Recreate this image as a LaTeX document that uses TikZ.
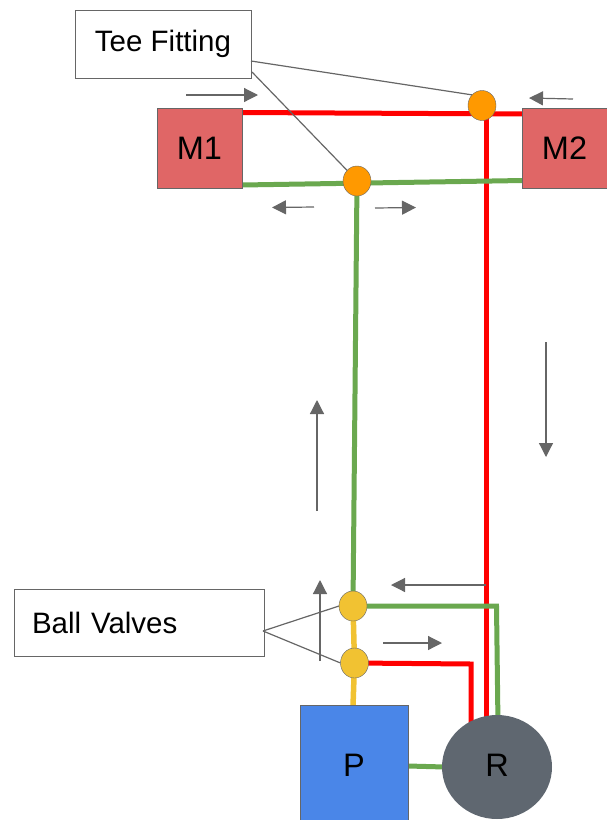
\documentclass[tikz,border=0pt]{standalone}
\usepackage{fontspec}
\setmainfont{Liberation Sans}
\usetikzlibrary{shapes.geometric, backgrounds, arrows.meta}
\definecolor{pipered}{HTML}{FF0000}
\definecolor{pipegreen}{HTML}{6AA84F}
\definecolor{pipeyellow}{HTML}{F1C232}
\definecolor{teeorange}{HTML}{FF9900}
\definecolor{motorred}{HTML}{E06666}
\definecolor{pumpblue}{HTML}{4A86E8}
\definecolor{tankgray}{HTML}{5F6770}
\definecolor{linegray}{HTML}{666666}
\tikzset{
    motor/.style={draw=linegray, fill=motorred, minimum width=85pt, minimum height=80pt, inner sep=0pt, outer sep=0pt, font=\fontsize{32.5}{33}\selectfont},
    label box/.style={draw=linegray, fill=white, line width=1pt, inner sep=0pt, outer sep=0pt, font=\fontsize{29.5}{31}\selectfont},
    joint/.style={draw=linegray, ellipse, minimum width=28pt, minimum height=30pt, inner sep=0pt, outer sep=0pt},
    pipe/.style={line width=5pt},
    leader/.style={draw=linegray, line width=1.2pt},
    flow/.style={draw=linegray, line width=1.2pt, -{Triangle[length=14pt, width=14pt]}},
}
\begin{document}
\begin{tikzpicture}[x=1pt, y=-1pt]
    \useasboundingbox (0,0) rectangle (606,820);

    \node[label box, minimum width=176pt, minimum height=68pt] (teebox) at (163,44) {Tee Fitting};
    \node[label box, minimum width=250pt, minimum height=67pt, text width=214pt, inner xsep=18pt, align=left] (valvebox) at (139,623) {Ball Valves};
    \node[motor] (m1) at (199.5,148) {M1};
    \node[motor] (m2) at (564.5,148) {M2};
    \node[joint, fill=teeorange] (teetop) at (482,105.5) {};
    \node[joint, fill=teeorange] (teelow) at (357,181) {};
    \node[joint, fill=pipeyellow] (valvetop) at (353,606) {};
    \node[joint, fill=pipeyellow] (valvelow) at (354.5,663) {};
    \node[draw=linegray, fill=pumpblue, minimum width=108pt, minimum height=115pt, inner sep=0pt, outer sep=0pt, text height=28pt, font=\fontsize{32.5}{33}\selectfont] (pump) at (354,762.5) {P};
    \node[ellipse, fill=tankgray, minimum width=110pt, minimum height=104pt, inner sep=0pt, outer sep=0pt, text depth=4pt, font=\fontsize{32.5}{33}\selectfont] (tank) at (497,767) {R};

    % attachment points of the pipes
    \coordinate (m1red) at (242,112.5);
    \coordinate (m2red) at (523,114);
    \coordinate (m1green) at (242,185);
    \coordinate (m2green) at (523,180.5);
    \coordinate (redtop) at (486,106);
    \coordinate (redbottom) at (486,730);
    \coordinate (returncorner) at (496.5,606);
    \coordinate (returnbottom) at (498,725);
    \coordinate (bypasscorner) at (471,664);
    \coordinate (bypassbottom) at (471,730);
    \coordinate (pumptop) at (353,706);
    \coordinate (pumpside) at (408,766);
    \coordinate (tankside) at (445,767);

    \begin{scope}[on background layer]
    \draw[pipe, pipered] (m1red) -- (m2red);
    \draw[pipe, pipered] (redtop) -- (redbottom);
    \draw[pipe, pipered] (valvelow.center) -- (bypasscorner) -- (bypassbottom);
    \draw[pipe, pipegreen] (m1green) -- (m2green);
    \draw[pipe, pipegreen] (teelow.center) -- (valvetop.center);
    \draw[pipe, pipegreen] (valvetop.center) -- (returncorner) -- (returnbottom);
    \draw[pipe, pipegreen] (pumpside) -- (tankside);
    \draw[pipe, pipeyellow, line width=5.5pt] (valvetop.center) -- (valvelow.center) -- (pumptop);
    \end{scope}

    % callout lines
    \coordinate (teeboxa) at (251,61);
    \coordinate (teeboxb) at (252,72);
    \coordinate (valveboxa) at (263,631);
    \draw[leader] (teeboxa) -- (teetop.north west);
    \draw[leader] (teeboxb) -- (teelow.north west);
    \draw[leader] (valveboxa) -- (valvetop.west);
    \draw[leader] (valveboxa) -- (valvelow.west);

    % flow directions
    \foreach \flowname/\fx/\fy/\tx/\ty in {
        a/186/95/258/95, b/573/99/529/98, c/314/207/272/207.5, d/375/208/416/207.5,
        e/317/511/317/400, f/546/342/546/457, g/486/585/391/585, h/320/661/320/580,
        i/383/643/442/643} {
        \coordinate (flow\flowname start) at (\fx,\fy);
        \coordinate (flow\flowname end) at (\tx,\ty);
        \draw[flow] (flow\flowname start) -- (flow\flowname end);
    }
\end{tikzpicture}
\end{document}
